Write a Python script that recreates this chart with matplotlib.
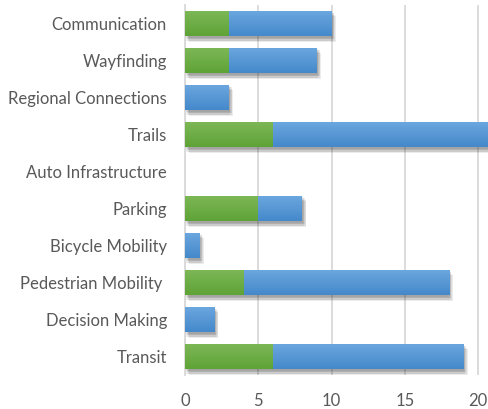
import numpy as np
import matplotlib
matplotlib.use("Agg")
import matplotlib.pyplot as plt
import matplotlib.patheffects as pe
from matplotlib.colors import LinearSegmentedColormap

categories = ["Communication", "Wayfinding", "Regional Connections", "Trails",
              "Auto Infrastructure", "Parking", "Bicycle Mobility",
              "Pedestrian Mobility ", "Decision Making", "Transit"]
green_vals = [3, 3, 0, 6, 0, 5, 0, 4, 0, 6]
blue_vals = [7, 6, 3, 15, 0, 3, 1, 14, 2, 13]
x_ticks = [0, 5, 10, 15, 20]

plt.rcParams['font.family'] = ['Lato', 'DejaVu Sans']

fig = plt.figure(figsize=(4.89, 4.09), dpi=100)
ax = fig.add_axes([185 / 489, 1 - 375 / 409, 1 - 185 / 489, 370 / 409])

y = np.arange(len(categories))[::-1]
green_cm = LinearSegmentedColormap.from_list("g", ["#5fa337", "#7db857"])
blue_cm = LinearSegmentedColormap.from_list("b", ["#4589cb", "#6ca7df"])
grad = np.linspace(0, 1, 64).reshape(-1, 1)

# soft blurred shadow built from a few faint offset copies
shadow = [pe.SimplePatchShadow(offset=(dx, dy), alpha=0.09, shadow_rgbFace="#333333")
          for dx, dy in [(0.5, -1), (1.5, -2), (2.5, -3), (3, -4), (1, -3), (2, -1.5)]]
shadow.append(pe.Normal())

def draw(lefts, widths, cm, color):
    bars = ax.barh(y, widths, left=lefts, height=0.7, color=color, linewidth=0, zorder=3)
    for b in bars:
        if b.get_width() <= 0:
            continue
        b.set_path_effects(shadow)
        x0, y0 = b.get_x(), b.get_y()
        im = ax.imshow(grad, cmap=cm, aspect="auto", origin="lower",
                       extent=[x0, x0 + b.get_width(), y0, y0 + b.get_height()], zorder=3.5)
        im.set_clip_path(b)

draw(np.zeros(len(y)), green_vals, green_cm, "#70ad47")
draw(green_vals, blue_vals, blue_cm, "#5b9bd5")

ax.set_xlim(0, 20.75)
ax.set_ylim(-0.5, len(categories) - 0.5)
ax.set_xticks(x_ticks)
ax.set_yticks(y)
ax.set_yticklabels(categories)
ax.grid(axis="x", color="#d9d9d9", linewidth=1.3, zorder=0)
for s in ["top", "right", "bottom"]:
    ax.spines[s].set_visible(False)
ax.spines["left"].set_color("#d9d9d9")
ax.spines["left"].set_linewidth(1.3)
ax.tick_params(length=0, labelsize=12, colors="#595959")
ax.tick_params(axis="y", pad=13)
ax.tick_params(axis="x", pad=13)

fig.savefig("out.png", dpi=100)
